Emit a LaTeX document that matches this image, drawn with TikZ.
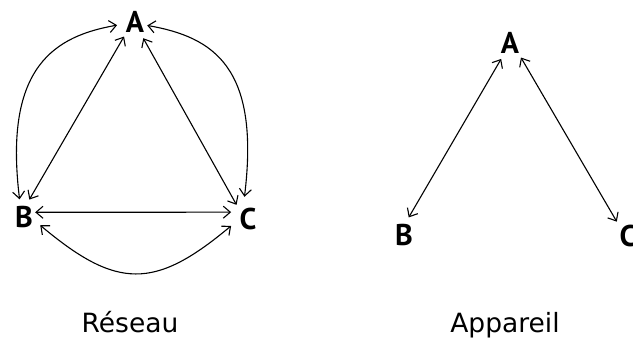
\documentclass[tikz,border=0pt]{standalone}
\usepackage{fontspec}
\setmainfont{DejaVu Sans}
\newfontfamily\letfont{PT Sans}
\usetikzlibrary{arrows.meta}
\begin{document}
\begin{tikzpicture}[x=1pt,y=1pt,
  lett/.style={circle, inner sep=0pt, minimum size=36pt, font=\letfont\fontsize{30}{34}\selectfont\bfseries},
  lbl/.style={anchor=base, inner sep=0pt, font=\fontsize{26.5}{30}\selectfont},
  link/.style={line width=1.1pt, {Straight Barb[length=7pt,width=12pt]}-{Straight Barb[length=7pt,width=12pt]}},
]
\useasboundingbox (0,0) rectangle (633,344);
% Reseau
\node[lett] (A) at (135,322) {A};
\node[lett] (B) at (24,127) {B};
\node[lett] (C) at (248,125) {C};
\draw[link] (A.233) -- (B.73);
\draw[link] (A.297) -- (C.129);
\draw[link, shorten <=-6.4pt] (B.15) -- (C.158);
\draw[link] (A.190) to[out=190, in=97, out distance=62pt, in distance=135pt] (B.104);
\draw[link, shorten <=-5.5pt, shorten >=4.5pt] (A.346) to[out=-10, in=83, out distance=62pt, in distance=135pt] (C.103);
\draw[link] (B.333) to[out=-40, in=220, distance=100pt] (C.202);
\node[lbl] (r) at (130,11) {Réseau};
% Appareil
\node[lett] (A2) at (510,301) {A};
\node[lett] (B2) at (404,109) {B};
\node[lett] (C2) at (628,108) {C};
\draw[link] (A2.241) -- (B2.75);
\draw[link] (A2.307) -- (C2.128);
\node[lbl] (p) at (505,11) {Appareil};
\end{tikzpicture}
\end{document}
